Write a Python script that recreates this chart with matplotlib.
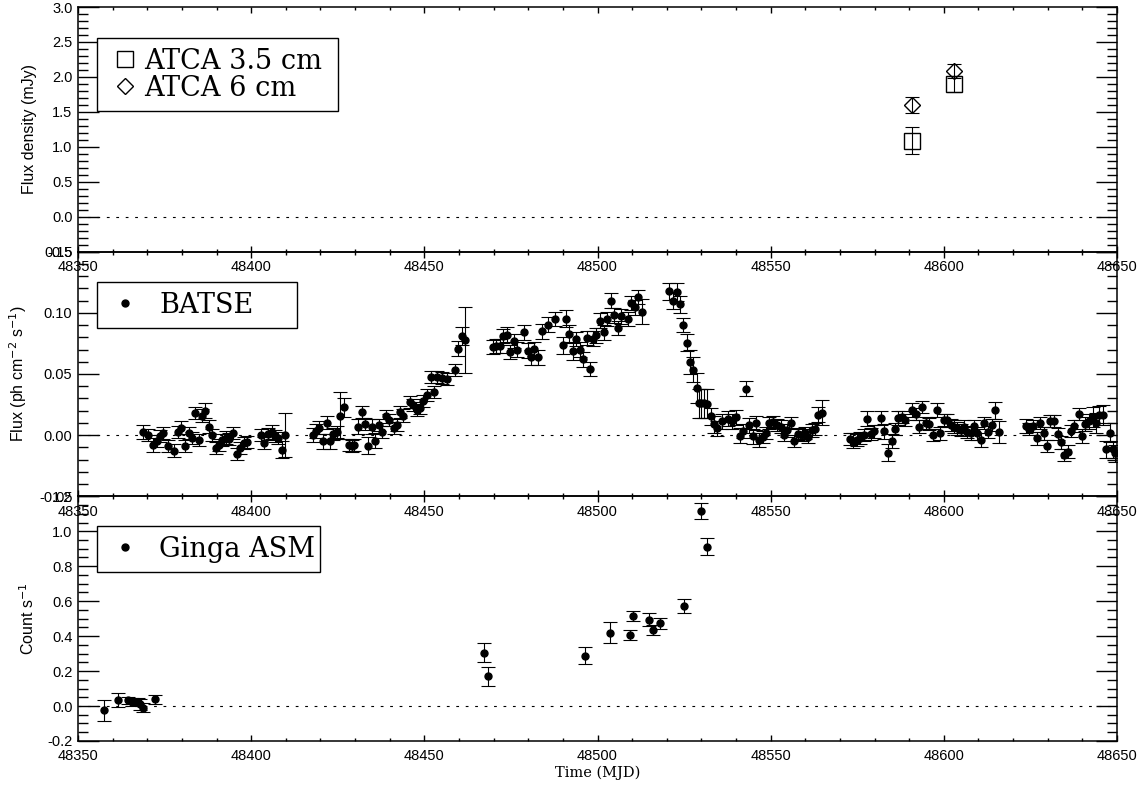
import numpy as np
import matplotlib
matplotlib.use("Agg")
import matplotlib.pyplot as plt
from matplotlib.ticker import MultipleLocator, FormatStrFormatter

plt.rcParams.update({
    "font.family": "Liberation Sans",
    "font.size": 10.5,
    "xtick.direction": "in",
    "ytick.direction": "in",
    "xtick.top": True,
    "ytick.right": True,
    "axes.linewidth": 1.1,
})

# ATCA radio flux densities (mJy)
atca35_t = [48590.8, 48602.9]
atca35_f = [1.09, 1.90]
atca35_e = [0.19, 0.11]
atca6_t = [48590.8, 48602.9]
atca6_f = [1.60, 2.09]
atca6_e = [0.11, 0.10]

# BATSE hard X-ray flux (ph cm^-2 s^-1)
batse_t = [
    48368.9, 48370.3, 48371.7, 48372.9, 48373.8, 48374.6, 48375.9, 48377.8, 48379.0, 48379.7,
    48380.9, 48381.9, 48382.8, 48383.8, 48384.9, 48385.9, 48386.8, 48387.8, 48388.8, 48389.8,
    48390.7, 48391.7, 48392.7, 48393.7, 48394.8, 48395.8, 48396.8, 48397.9, 48398.9,
    48402.8, 48403.8, 48404.8, 48405.9, 48406.9, 48407.8, 48408.8, 48409.9,
    48417.8, 48418.7, 48419.7, 48420.8, 48421.8, 48422.8, 48423.7, 48424.7, 48425.7, 48426.9,
    48428.1, 48429.0, 48429.8, 48430.9, 48431.9, 48432.9, 48433.8, 48434.8, 48435.8, 48436.9,
    48437.9, 48438.8, 48439.8, 48441.1, 48442.0, 48443.0, 48443.9, 48445.9, 48446.8, 48447.8,
    48448.8, 48449.7, 48450.9, 48451.9, 48452.8, 48453.6, 48455.0, 48456.4, 48458.9, 48459.8,
    48460.8, 48461.8,
    48469.9, 48470.8, 48471.9, 48472.8, 48473.8, 48474.7, 48475.9, 48476.8, 48478.8, 48479.8,
    48480.8, 48481.8, 48482.7, 48483.9, 48485.8, 48487.7, 48489.9, 48490.8, 48491.8, 48492.8,
    48493.8, 48494.8, 48495.8, 48496.9, 48497.8, 48498.8, 48499.7, 48500.7, 48501.9, 48502.8,
    48503.8, 48504.8, 48505.8, 48506.8, 48508.8, 48509.8, 48510.8, 48511.8, 48512.9,
    48520.7, 48521.7, 48522.9, 48523.8, 48524.8, 48525.8, 48526.7, 48527.7, 48528.7, 48529.4,
    48529.8, 48530.8, 48531.7, 48532.7, 48533.7, 48534.6, 48535.9, 48537.6, 48538.8, 48539.9,
    48541.0, 48541.9, 48542.9, 48543.8, 48544.8, 48545.8, 48546.7, 48547.7, 48548.7, 48549.6,
    48550.8, 48551.9, 48552.9, 48553.9, 48554.8, 48555.8, 48556.8, 48558.0, 48558.9, 48559.9,
    48560.9, 48561.8, 48562.8, 48563.8, 48564.9,
    48572.9, 48573.9, 48574.9, 48575.8, 48576.8, 48577.9, 48578.9, 48579.9, 48581.8, 48582.8,
    48584.0, 48584.9, 48585.9, 48586.8, 48587.8, 48588.8, 48590.9, 48591.9, 48592.8, 48593.8,
    48594.8, 48595.8, 48596.8, 48597.9, 48598.9, 48599.9, 48601.0, 48602.0, 48602.9, 48603.9,
    48604.9, 48605.8, 48606.8, 48607.8, 48608.7, 48609.7, 48610.8, 48611.7, 48612.7, 48613.8,
    48614.8, 48615.8,
    48623.8, 48624.7, 48625.7, 48626.8, 48627.8, 48628.9, 48629.8, 48630.7, 48631.8, 48632.9,
    48633.8, 48634.8, 48635.8, 48636.7, 48637.7, 48638.9, 48639.9, 48640.8, 48641.8, 48643.0,
    48643.9, 48644.9, 48646.0, 48646.9, 48647.9, 48648.9, 48649.5,
]
batse_f = [
    0.0025, 0.0000, -0.0080, -0.0045, -0.0010, 0.0016, -0.0090, -0.0126, 0.0025, 0.0062,
    -0.0090, 0.0016, -0.0025, 0.0180, -0.0040, 0.0160, 0.0200, 0.0070, 0.0000, -0.0107,
    -0.0080, -0.0040, -0.0020, -0.0030, 0.0016, -0.0153, -0.0107, -0.0066, -0.0057,
    0.0000, -0.0066, 0.0010, 0.0025, -0.0010, -0.0025, -0.0120, 0.0000,
    0.0000, 0.0035, 0.0062, -0.0050, 0.0103, -0.0050, 0.0010, 0.0025, 0.0160, 0.0226,
    -0.0080, -0.0090, -0.0080, 0.0070, 0.0190, 0.0093, -0.0085, 0.0070, -0.0045, 0.0085,
    0.0025, 0.0153, 0.0125, 0.0057, 0.0080, 0.0190, 0.0160, 0.0270, 0.0248, 0.0207,
    0.0220, 0.0276, 0.0330, 0.0475, 0.0350, 0.0475, 0.0467, 0.0460, 0.0535, 0.0708,
    0.0810, 0.0776,
    0.0720, 0.0730, 0.0730, 0.0810, 0.0820, 0.0680, 0.0770, 0.0700, 0.0840, 0.0690,
    0.0636, 0.0705, 0.0636, 0.0850, 0.0904, 0.0950, 0.0735, 0.0950, 0.0830, 0.0685,
    0.0787, 0.0700, 0.0620, 0.0795, 0.0540, 0.0790, 0.0817, 0.0937, 0.0840, 0.0950,
    0.1100, 0.0980, 0.0877, 0.0970, 0.0950, 0.1080, 0.1046, 0.1130, 0.1010,
    0.1177, 0.1100, 0.1170, 0.1070, 0.0900, 0.0754, 0.0600, 0.0535, 0.0385, 0.0260,
    0.0260, 0.0260, 0.0257, 0.0153, 0.0090, 0.0057, 0.0112, 0.0134, 0.0112, 0.0145,
    -0.0005, 0.0035, 0.0380, 0.0079, -0.0010, 0.0098, -0.0040, -0.0017, 0.0020, 0.0098,
    0.0107, 0.0084, 0.0070, 0.0000, 0.0038, 0.0098, -0.0047, 0.0008, 0.0000, 0.0016,
    -0.0017, 0.0038, 0.0050, 0.0166, 0.0185,
    -0.0030, -0.0044, -0.0040, -0.0025, 0.0000, 0.0134, 0.0010, 0.0030, 0.0140, 0.0030,
    -0.0143, -0.0047, 0.0052, 0.0140, 0.0150, 0.0125, 0.0205, 0.0170, 0.0070, 0.0230,
    0.0100, 0.0090, 0.0000, 0.0205, 0.0014, 0.0125, 0.0120, 0.0082, 0.0070, 0.0055,
    0.0040, 0.0070, 0.0027, 0.0014, 0.0076, 0.0014, -0.0040, 0.0100, 0.0027, 0.0082,
    0.0205, 0.0027,
    0.0076, 0.0050, 0.0076, -0.0027, 0.0100, 0.0014, -0.0090, 0.0117, 0.0117, 0.0010,
    -0.0060, -0.0160, -0.0134, 0.0035, 0.0076, 0.0170, -0.0008, 0.0090, 0.0113, 0.0150,
    0.0097, 0.0166, 0.0166, -0.0115, 0.0020, -0.0115, -0.0150,
]
batse_e = [
    0.006, 0.005, 0.006, 0.005, 0.005, 0.005, 0.005, 0.005, 0.005, 0.005,
    0.005, 0.005, 0.005, 0.005, 0.005, 0.005, 0.006, 0.005, 0.005, 0.005,
    0.005, 0.005, 0.005, 0.005, 0.005, 0.005, 0.005, 0.005, 0.005,
    0.005, 0.005, 0.005, 0.006, 0.005, 0.005, 0.007, 0.018,
    0.006, 0.006, 0.005, 0.006, 0.005, 0.006, 0.005, 0.005, 0.019, 0.008,
    0.005, 0.005, 0.005, 0.006, 0.005, 0.005, 0.007, 0.006, 0.006, 0.005,
    0.005, 0.005, 0.005, 0.005, 0.005, 0.005, 0.005, 0.005, 0.005, 0.005,
    0.005, 0.005, 0.005, 0.005, 0.005, 0.005, 0.005, 0.005, 0.005, 0.006,
    0.007, 0.027,
    0.006, 0.006, 0.006, 0.006, 0.006, 0.006, 0.006, 0.006, 0.006, 0.006,
    0.006, 0.006, 0.006, 0.006, 0.006, 0.006, 0.007, 0.007, 0.007, 0.007,
    0.006, 0.006, 0.006, 0.006, 0.006, 0.006, 0.006, 0.006, 0.006, 0.006,
    0.006, 0.006, 0.006, 0.006, 0.006, 0.006, 0.006, 0.006, 0.010,
    0.007, 0.007, 0.007, 0.007, 0.006, 0.007, 0.010, 0.010, 0.012, 0.012,
    0.012, 0.012, 0.012, 0.007, 0.007, 0.006, 0.006, 0.006, 0.006, 0.006,
    0.006, 0.006, 0.006, 0.006, 0.006, 0.006, 0.006, 0.005, 0.005, 0.005,
    0.005, 0.005, 0.005, 0.005, 0.005, 0.005, 0.005, 0.005, 0.005, 0.005,
    0.005, 0.005, 0.005, 0.006, 0.010,
    0.005, 0.006, 0.005, 0.005, 0.005, 0.006, 0.005, 0.005, 0.006, 0.006,
    0.007, 0.006, 0.005, 0.006, 0.005, 0.005, 0.006, 0.005, 0.005, 0.005,
    0.005, 0.005, 0.005, 0.006, 0.005, 0.005, 0.005, 0.005, 0.005, 0.005,
    0.005, 0.005, 0.005, 0.005, 0.005, 0.005, 0.006, 0.005, 0.005, 0.005,
    0.007, 0.009,
    0.006, 0.005, 0.005, 0.005, 0.005, 0.005, 0.005, 0.005, 0.005, 0.005,
    0.005, 0.005, 0.005, 0.005, 0.005, 0.005, 0.006, 0.006, 0.006, 0.008,
    0.008, 0.007, 0.008, 0.007, 0.008, 0.007, 0.007,
]

# Ginga ASM count rate
ginga_t = [48357.5, 48361.5, 48364.3, 48365.5, 48367.4, 48367.9, 48368.7, 48372.3,
           48467.2, 48468.3, 48496.3, 48503.5, 48509.3, 48510.3, 48515.0, 48516.1,
           48518.1, 48525.1, 48530.0, 48531.7]
ginga_f = [-0.025, 0.034, 0.034, 0.023, 0.025, 0.010, -0.010, 0.038,
           0.305, 0.170, 0.288, 0.419, 0.406, 0.514, 0.495, 0.434,
           0.473, 0.575, 1.116, 0.911]
ginga_e = [0.060, 0.042, 0.020, 0.025, 0.020, 0.030, 0.025, 0.025,
           0.055, 0.055, 0.050, 0.060, 0.027, 0.030, 0.035, 0.030,
           0.032, 0.040, 0.048, 0.048]

fig, axes = plt.subplots(3, 1, figsize=(11.39, 7.87), dpi=100)
fig.subplots_adjust(left=0.0685, right=0.9807, top=0.9911, bottom=0.0585, hspace=0)
ax1, ax2, ax3 = axes

err_kw = dict(fmt="none", ecolor="k", elinewidth=0.8, capsize=4.7, capthick=0.8)
zero_kw = dict(color="k", lw=0.8, ls=(0, (2.5, 6)), zorder=0)
leg_kw = dict(loc="upper left", mode="expand", borderaxespad=0, fancybox=False,
              edgecolor="k", framealpha=1, handlelength=1.4, borderpad=0.35,
              labelspacing=0.0, prop={"family": "DejaVu Serif", "size": 19.5})

# radio
ax1.errorbar(atca35_t, atca35_f, yerr=atca35_e, **err_kw)
ax1.errorbar(atca6_t, atca6_f, yerr=atca6_e, **err_kw)
ax1.plot(atca35_t, atca35_f, "s", ms=12, mfc="none", mec="k", mew=1.0, label="ATCA 3.5 cm")
ax1.plot(atca6_t, atca6_f, "D", ms=8.5, mfc="none", mec="k", mew=1.0, label="ATCA 6 cm")
ax1.axhline(0, **zero_kw)
ax1.set_ylim(-0.5, 3.0)
ax1.yaxis.set_major_locator(MultipleLocator(0.5))
ax1.yaxis.set_minor_locator(MultipleLocator(0.1))
ax1.yaxis.set_major_formatter(FormatStrFormatter("%.1f"))
ax1.set_ylabel("Flux density (mJy)", labelpad=7, fontsize=11.5)
ax1.legend(bbox_to_anchor=(0.0183, 0.5, 0.232, 0.373), handletextpad=0.0, **leg_kw)

# hard X-rays
ax2.errorbar(batse_t, batse_f, yerr=batse_e, **err_kw)
ax2.plot(batse_t, batse_f, "o", ms=5, color="k", label="BATSE")
ax2.axhline(0, **zero_kw)
ax2.set_ylim(-0.05, 0.15)
ax2.yaxis.set_major_locator(MultipleLocator(0.05))
ax2.yaxis.set_minor_locator(MultipleLocator(0.01))
ax2.yaxis.set_major_formatter(FormatStrFormatter("%.2f"))
ax2.set_ylabel("Flux (ph cm$^{-2}$ s$^{-1}$)", labelpad=7, fontsize=11.5)
ax2.legend(bbox_to_anchor=(0.0183, 0.5, 0.1925, 0.375), handletextpad=0.55, **leg_kw)

# soft X-rays
ax3.errorbar(ginga_t, ginga_f, yerr=ginga_e, **err_kw)
ax3.plot(ginga_t, ginga_f, "o", ms=5, color="k", label="Ginga ASM")
ax3.axhline(0, **zero_kw)
ax3.set_ylim(-0.2, 1.2)
ax3.yaxis.set_major_locator(MultipleLocator(0.2))
ax3.yaxis.set_minor_locator(MultipleLocator(0.05))
ax3.yaxis.set_major_formatter(FormatStrFormatter("%.1f"))
ax3.set_ylabel("Count s$^{-1}$", labelpad=7, fontsize=11.5)
ax3.legend(bbox_to_anchor=(0.0183, 0.5, 0.2146, 0.378), handletextpad=0.55, **leg_kw)
ax3.set_xlabel("Time (MJD)", family="DejaVu Serif", fontsize=10.5, labelpad=2)

for ax in axes:
    # transparent backgrounds so each panel's tick labels show over the panel below
    ax.patch.set_visible(False)
    ax.set_xlim(48350, 48650)
    ax.xaxis.set_major_locator(MultipleLocator(50))
    ax.xaxis.set_minor_locator(MultipleLocator(10))
    ax.xaxis.set_major_formatter(FormatStrFormatter("%d"))
    ax.tick_params(axis="x", which="major", length=4.5, width=1, pad=6)
    ax.tick_params(axis="x", which="minor", length=2.5, width=1)
    ax.tick_params(axis="y", which="major", length=15, width=1, pad=4)
    ax.tick_params(axis="y", which="minor", length=7.5, width=1)

plt.savefig("out.png", dpi=100)
